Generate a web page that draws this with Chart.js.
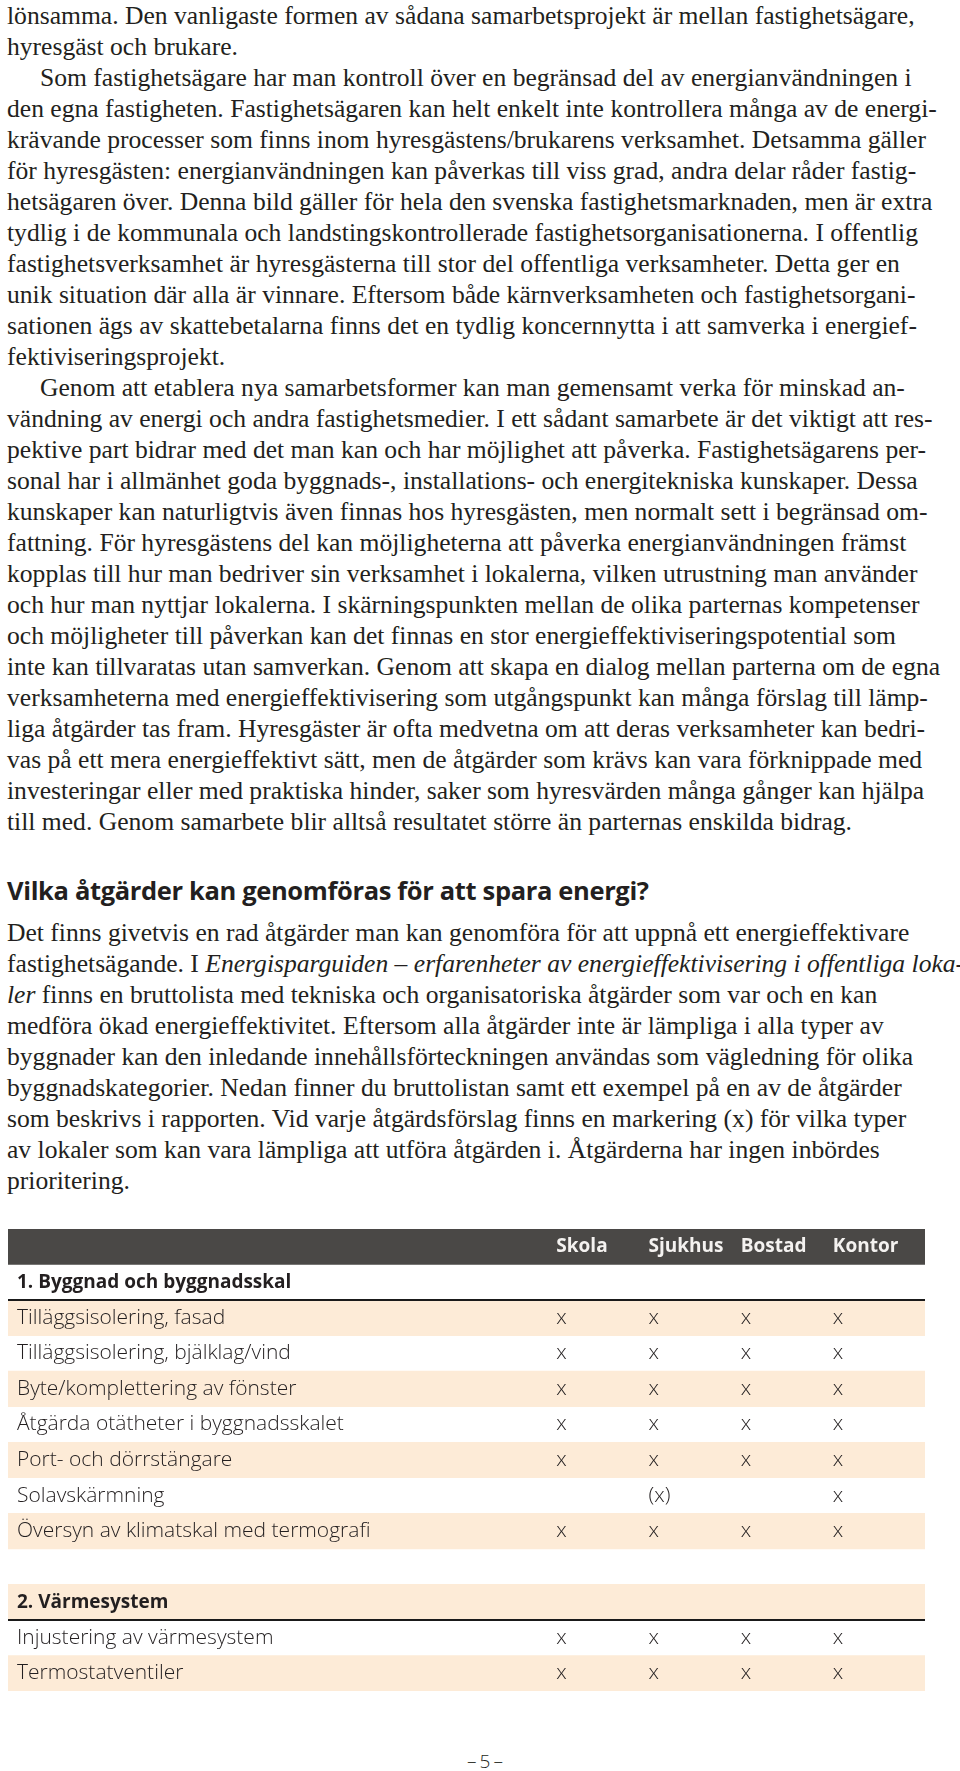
<!DOCTYPE html>
<html lang="sv">
<head>
<meta charset="utf-8">
<title>Vilka åtgärder kan genomföras</title>
<script src="https://cdn.jsdelivr.net/npm/chart.js@4.4.1/dist/chart.umd.min.js"></script>
<style>
  html, body { margin: 0; padding: 0; background: #fff; }
  body { width: 960px; height: 1771px; position: relative; overflow: hidden; color: #231f20; }
  .brod { position: absolute; left: 7px; font-family: "Liberation Serif", "DejaVu Serif", serif;
          font-size: 25.6px; line-height: 31px; white-space: nowrap; }
  .brod div { height: 31px; }
  .ind { padding-left: 33px; }
  h2 { position: absolute; left: 7px; top: 875px; margin: 0; font-family: "Open Sans", sans-serif;
       font-weight: 700; font-size: 25.5px; line-height: 31px; letter-spacing: -0.35px; }
  #tabell { position: absolute; left: 8px; top: 1229px; width: 917px; height: 462px; }
  .sida { position: absolute; left: 0; width: 970px; top: 1746px; text-align: center;
          font-family: "Open Sans", sans-serif; font-weight: 300; font-size: 19px; line-height: 30px; }
</style>
</head>
<body>

<div class="brod" style="top:0">
  <div>lönsamma. Den vanligaste formen av sådana samarbetsprojekt är mellan fastighetsägare,</div>
  <div>hyresgäst och brukare.</div>
  <div class="ind">Som fastighetsägare har man kontroll över en begränsad del av energianvändningen i</div>
  <div>den egna fastigheten. Fastighetsägaren kan helt enkelt inte kontrollera många av de energi-</div>
  <div>krävande processer som finns inom hyresgästens/brukarens verksamhet. Detsamma gäller</div>
  <div>för hyresgästen: energianvändningen kan påverkas till viss grad, andra delar råder fastig-</div>
  <div>hetsägaren över. Denna bild gäller för hela den svenska fastighetsmarknaden, men är extra</div>
  <div>tydlig i de kommunala och landstingskontrollerade fastighetsorganisationerna. I offentlig</div>
  <div>fastighetsverksamhet är hyresgästerna till stor del offentliga verksamheter. Detta ger en</div>
  <div>unik situation där alla är vinnare. Eftersom både kärnverksamheten och fastighetsorgani-</div>
  <div>sationen ägs av skattebetalarna finns det en tydlig koncernnytta i att samverka i energief-</div>
  <div>fektiviseringsprojekt.</div>
  <div class="ind">Genom att etablera nya samarbetsformer kan man gemensamt verka för minskad an-</div>
  <div>vändning av energi och andra fastighetsmedier. I ett sådant samarbete är det viktigt att res-</div>
  <div>pektive part bidrar med det man kan och har möjlighet att påverka. Fastighetsägarens per-</div>
  <div>sonal har i allmänhet goda byggnads-, installations- och energitekniska kunskaper. Dessa</div>
  <div>kunskaper kan naturligtvis även finnas hos hyresgästen, men normalt sett i begränsad om-</div>
  <div>fattning. För hyresgästens del kan möjligheterna att påverka energianvändningen främst</div>
  <div>kopplas till hur man bedriver sin verksamhet i lokalerna, vilken utrustning man använder</div>
  <div>och hur man nyttjar lokalerna. I skärningspunkten mellan de olika parternas kompetenser</div>
  <div>och möjligheter till påverkan kan det finnas en stor energieffektiviseringspotential som</div>
  <div>inte kan tillvaratas utan samverkan. Genom att skapa en dialog mellan parterna om de egna</div>
  <div>verksamheterna med energieffektivisering som utgångspunkt kan många förslag till lämp-</div>
  <div>liga åtgärder tas fram. Hyresgäster är ofta medvetna om att deras verksamheter kan bedri-</div>
  <div>vas på ett mera energieffektivt sätt, men de åtgärder som krävs kan vara förknippade med</div>
  <div>investeringar eller med praktiska hinder, saker som hyresvärden många gånger kan hjälpa</div>
  <div>till med. Genom samarbete blir alltså resultatet större än parternas enskilda bidrag.</div>
</div>

<h2>Vilka åtgärder kan genomföras för att spara energi?</h2>

<div class="brod" style="top:917px">
  <div>Det finns givetvis en rad åtgärder man kan genomföra för att uppnå ett energieffektivare</div>
  <div>fastighetsägande. I <i>Energisparguiden – erfarenheter av energieffektivisering i offentliga loka-</i></div>
  <div><i>ler</i> finns en bruttolista med tekniska och organisatoriska åtgärder som var och en kan</div>
  <div>medföra ökad energieffektivitet. Eftersom alla åtgärder inte är lämpliga i alla typer av</div>
  <div>byggnader kan den inledande innehållsförteckningen användas som vägledning för olika</div>
  <div>byggnadskategorier. Nedan finner du bruttolistan samt ett exempel på en av de åtgärder</div>
  <div>som beskrivs i rapporten. Vid varje åtgärdsförslag finns en markering (x) för vilka typer</div>
  <div>av lokaler som kan vara lämpliga att utföra åtgärden i. Åtgärderna har ingen inbördes</div>
  <div>prioritering.</div>
</div>

<div id="tabell"><canvas id="atgardChart"></canvas></div>

<div class="sida">–&#8201;5&#8201;–</div>

<script>
// tabellens data
const kolumner = ['Skola', 'Sjukhus', 'Bostad', 'Kontor'];

const avsnitt1 = '1. Byggnad och byggnadsskal';
const atgarder1 = [
    'Tilläggsisolering, fasad',
    'Tilläggsisolering, bjälklag/vind',
    'Byte/komplettering av fönster',
    'Åtgärda otätheter i byggnadsskalet',
    'Port- och dörrstängare',
    'Solavskärmning',
    'Översyn av klimatskal med termografi'
];
const markeringar1 = [
    ['x', 'x', 'x', 'x'],
    ['x', 'x', 'x', 'x'],
    ['x', 'x', 'x', 'x'],
    ['x', 'x', 'x', 'x'],
    ['x', 'x', 'x', 'x'],
    ['', '(x)', '', 'x'],
    ['x', 'x', 'x', 'x']
];

const avsnitt2 = '2. Värmesystem';
const atgarder2 = ['Injustering av värmesystem', 'Termostatventiler'];
const markeringar2 = [
    ['x', 'x', 'x', 'x'],
    ['x', 'x', 'x', 'x']
];

// rader i tabellen: rubrikrad, avsnitt, åtgärder, tomrad
const rader = [];
rader.push({ etikett: '', typ: 'rubrik', markeringar: [] });
rader.push({ etikett: avsnitt1, typ: 'avsnitt', markeringar: [] });
atgarder1.forEach((a, i) => rader.push({ etikett: a, typ: 'atgard', markeringar: markeringar1[i] }));
rader.push({ etikett: '', typ: 'tom', markeringar: [] });
rader.push({ etikett: avsnitt2, typ: 'avsnitt', markeringar: [] });
atgarder2.forEach((a, i) => rader.push({ etikett: a, typ: 'atgard', markeringar: markeringar2[i] }));

// unika nycklar för kategoriaxeln (två rader saknar text)
const nycklar = rader.map((r, i) => 'rad' + i);

// axelgränser (kolumn 0 = Skola)
const X_MIN = -5.95;
const X_MAX = 4;

const FONT = '"Open Sans", "Noto Sans", sans-serif';
const MORK = '#4a4846';
const TONAD = '#fdebd7';

// bakgrund: mörk rubrikrad, tonade varannan rad
const bakgrund = rader.map((r, i) => (i % 2 === 0) ? [X_MIN, X_MAX] : null);
const bakgrundsfarg = rader.map((r, i) => i === 0 ? MORK : TONAD);

// punkter för markeringar och kolumnrubriker
const punkter = [];
rader.forEach((r, ri) => {
    r.markeringar.forEach((m, ci) => {
        if (m) punkter.push({ x: ci, y: nycklar[ri], text: m });
    });
});
const rubriker = kolumner.map((k, ci) => ({ x: ci, y: nycklar[0], text: k }));

// ritar texten för punkterna
const celltext = {
    id: 'celltext',
    afterDatasetsDraw(chart) {
        const ctx = chart.ctx;
        chart.data.datasets.forEach((ds, di) => {
            if (!ds.textFont) return;
            const meta = chart.getDatasetMeta(di);
            ctx.save();
            ctx.font = ds.textFont;
            ctx.fillStyle = ds.textColor;
            ctx.textAlign = 'left';
            ctx.textBaseline = 'middle';
            meta.data.forEach((el, i) => {
                ctx.fillText(ds.data[i].text, el.x, el.y);
            });
            ctx.restore();
        });
    }
};

new Chart(document.getElementById('atgardChart').getContext('2d'), {
    type: 'bar',
    data: {
        labels: nycklar,
        datasets: [
            {
                type: 'bar',
                label: 'bakgrund',
                indexAxis: 'y',
                data: bakgrund,
                backgroundColor: bakgrundsfarg,
                borderWidth: 0,
                barPercentage: 1,
                categoryPercentage: 1,
                xAxisID: 'x',
                yAxisID: 'y'
            },
            {
                type: 'scatter',
                label: 'rubriker',
                data: rubriker,
                pointRadius: 0,
                showLine: false,
                textFont: '700 19px ' + FONT,
                textColor: '#f4f2f0',
                xAxisID: 'x',
                yAxisID: 'y'
            },
            {
                type: 'scatter',
                label: 'markeringar',
                data: punkter,
                pointRadius: 0,
                showLine: false,
                textFont: '300 21px ' + FONT,
                textColor: '#231f20',
                xAxisID: 'x',
                yAxisID: 'y'
            }
        ]
    },
    options: {
        indexAxis: 'y',
        responsive: true,
        maintainAspectRatio: false,
        animation: false,
        events: [],
        layout: { padding: 0 },
        plugins: {
            legend: { display: false },
            tooltip: { enabled: false }
        },
        scales: {
            x: {
                type: 'linear',
                display: false,
                min: X_MIN,
                max: X_MAX
            },
            y: {
                type: 'category',
                offset: true,
                border: { display: false },
                grid: {
                    offset: true,
                    drawTicks: false,
                    z: 1,
                    color: (c) => (rader[c.index - 1] && rader[c.index - 1].typ === 'avsnitt') ? '#1a1a1a' : 'rgba(0,0,0,0)',
                    lineWidth: 2
                },
                ticks: {
                    mirror: true,
                    padding: 9,
                    z: 1,
                    autoSkip: false,
                    color: '#231f20',
                    callback: (v, i) => rader[i].etikett,
                    font: (c) => ({
                        family: FONT,
                        size: rader[c.index] && rader[c.index].typ === 'avsnitt' ? 19 : 21,
                        weight: rader[c.index] && rader[c.index].typ === 'avsnitt' ? '700' : '300'
                    })
                },
                afterFit(scale) {
                    scale.width = 0;
                    scale.paddingTop = 0;
                    scale.paddingBottom = 0;
                }
            }
        }
    },
    plugins: [celltext]
});
</script>
</body>
</html>
